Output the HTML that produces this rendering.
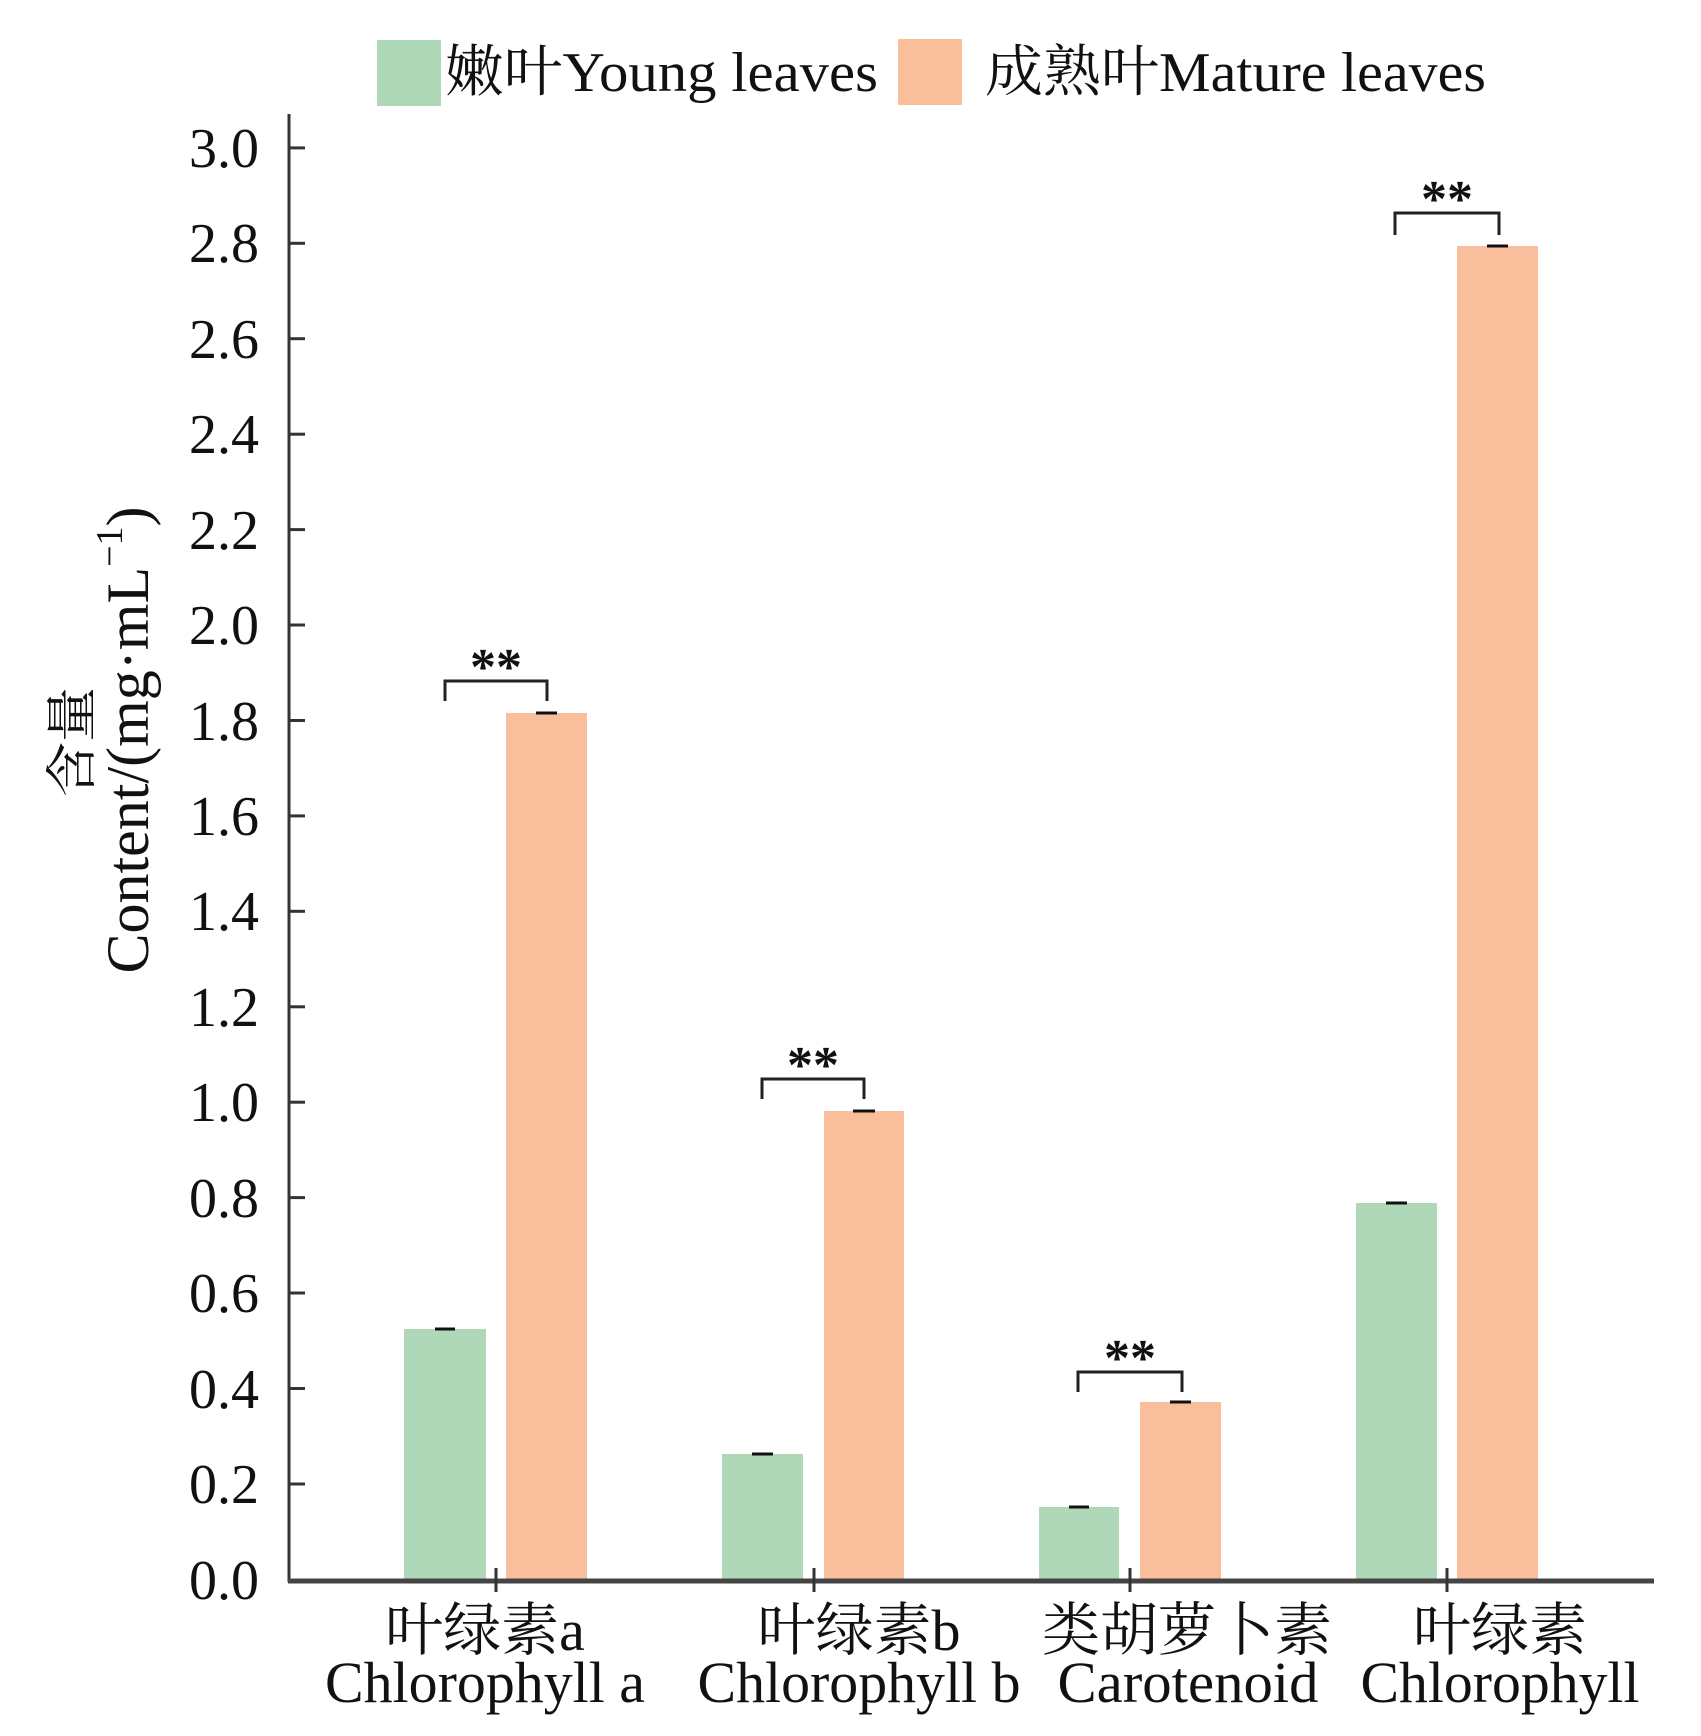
<!DOCTYPE html>
<html><head><meta charset="utf-8"><style>
html,body{margin:0;padding:0;background:#fff}
svg{display:block}
text{font-family:"Liberation Serif","Noto Serif CJK SC",serif;fill:#111}
</style></head><body>
<svg width="1701" height="1736" viewBox="0 0 1701 1736" xmlns="http://www.w3.org/2000/svg">
<!-- legend -->
<rect x="377" y="40" width="64" height="66" fill="#aed8b8"/>
<text x="445" y="91" font-size="56" textLength="433" lengthAdjust="spacingAndGlyphs">嫩叶Young leaves</text>
<rect x="898" y="39" width="64" height="66" fill="#f9be9c"/>
<text x="985" y="91" font-size="56" textLength="501" lengthAdjust="spacingAndGlyphs">成熟叶Mature leaves</text>

<!-- bars -->
<g fill="#aed8b8">
<rect x="404" y="1329" width="82" height="251"/>
<rect x="722" y="1454" width="81" height="126"/>
<rect x="1039" y="1507" width="80" height="73"/>
<rect x="1356" y="1203" width="81" height="377"/>
</g>
<g fill="#f9be9c">
<rect x="506" y="713" width="81" height="867"/>
<rect x="824" y="1111" width="80" height="469"/>
<rect x="1140" y="1402" width="81" height="178"/>
<rect x="1457" y="246" width="81" height="1334"/>
</g>
<!-- error caps -->
<g stroke="#111" stroke-width="3">
<line x1="435" y1="1329" x2="455" y2="1329"/>
<line x1="752" y1="1454" x2="773" y2="1454"/>
<line x1="1069" y1="1507" x2="1089" y2="1507"/>
<line x1="1386" y1="1203" x2="1407" y2="1203"/>
<line x1="536" y1="713" x2="557" y2="713"/>
<line x1="853" y1="1111" x2="875" y2="1111"/>
<line x1="1170" y1="1402" x2="1191" y2="1402"/>
<line x1="1487" y1="246" x2="1508" y2="246"/>
</g>
<!-- brackets -->
<g stroke="#222" stroke-width="3" fill="none">
<polyline points="445,701 445,681 547,681 547,701"/>
<polyline points="762,1099 762,1079 864,1079 864,1099"/>
<polyline points="1078,1392 1078,1372 1182,1372 1182,1392"/>
<polyline points="1395,235 1395,213 1499,213 1499,235"/>
</g>
<g font-size="52" text-anchor="middle" font-weight="bold">
<text x="496" y="684">**</text>
<text x="813" y="1082">**</text>
<text x="1130" y="1375">**</text>
<text x="1447" y="216">**</text>
</g>

<!-- axes -->
<line x1="289" y1="114" x2="289" y2="1582" stroke="#333" stroke-width="3"/>
<line x1="288" y1="1581" x2="1654" y2="1581" stroke="#444" stroke-width="5"/>
<g stroke="#333" stroke-width="3">
<line x1="289" y1="1484" x2="305" y2="1484"/>
<line x1="289" y1="1388.5" x2="305" y2="1388.5"/>
<line x1="289" y1="1293" x2="305" y2="1293"/>
<line x1="289" y1="1197.6" x2="305" y2="1197.6"/>
<line x1="289" y1="1102.2" x2="305" y2="1102.2"/>
<line x1="289" y1="1006.8" x2="305" y2="1006.8"/>
<line x1="289" y1="911.3" x2="305" y2="911.3"/>
<line x1="289" y1="815.9" x2="305" y2="815.9"/>
<line x1="289" y1="720.5" x2="305" y2="720.5"/>
<line x1="289" y1="625" x2="305" y2="625"/>
<line x1="289" y1="529.6" x2="305" y2="529.6"/>
<line x1="289" y1="434.2" x2="305" y2="434.2"/>
<line x1="289" y1="338.7" x2="305" y2="338.7"/>
<line x1="289" y1="243.3" x2="305" y2="243.3"/>
<line x1="289" y1="147.9" x2="305" y2="147.9"/>
<line x1="496" y1="1568" x2="496" y2="1592"/>
<line x1="814" y1="1568" x2="814" y2="1592"/>
<line x1="1130" y1="1568" x2="1130" y2="1592"/>
<line x1="1447" y1="1568" x2="1447" y2="1592"/>
</g>
<g font-size="56" text-anchor="end">
<text x="259" y="1599">0.0</text>
<text x="259" y="1503">0.2</text>
<text x="259" y="1408">0.4</text>
<text x="259" y="1312">0.6</text>
<text x="259" y="1217">0.8</text>
<text x="259" y="1121">1.0</text>
<text x="259" y="1026">1.2</text>
<text x="259" y="930">1.4</text>
<text x="259" y="835">1.6</text>
<text x="259" y="740">1.8</text>
<text x="259" y="644">2.0</text>
<text x="259" y="549">2.2</text>
<text x="259" y="453">2.4</text>
<text x="259" y="358">2.6</text>
<text x="259" y="262">2.8</text>
<text x="259" y="167">3.0</text>
</g>
<!-- y label -->
<g transform="translate(90,742) rotate(-90)">
<text x="0" y="0" font-size="52" text-anchor="middle" textLength="110" lengthAdjust="spacingAndGlyphs" transform="translate(0,0)" dx="0">含量</text>
</g>
<g transform="translate(148,740) rotate(-90)">
<text x="0" y="0" font-size="60" text-anchor="middle">Content/(mg·mL<tspan font-size="38" dy="-26">−1</tspan><tspan dy="26">)</tspan></text>
</g>
<!-- x labels -->
<g font-size="58" text-anchor="middle">
<text x="485" y="1650">叶绿素a</text>
<text x="859" y="1650">叶绿素b</text>
<text x="1187" y="1650">类胡萝卜素</text>
<text x="1500" y="1650">叶绿素</text>
<text x="485" y="1702" textLength="320" lengthAdjust="spacingAndGlyphs">Chlorophyll a</text>
<text x="859" y="1702" textLength="323" lengthAdjust="spacingAndGlyphs">Chlorophyll b</text>
<text x="1188" y="1702" textLength="261" lengthAdjust="spacingAndGlyphs">Carotenoid</text>
<text x="1500" y="1702" textLength="279" lengthAdjust="spacingAndGlyphs">Chlorophyll</text>
</g>
</svg>
</body></html>
